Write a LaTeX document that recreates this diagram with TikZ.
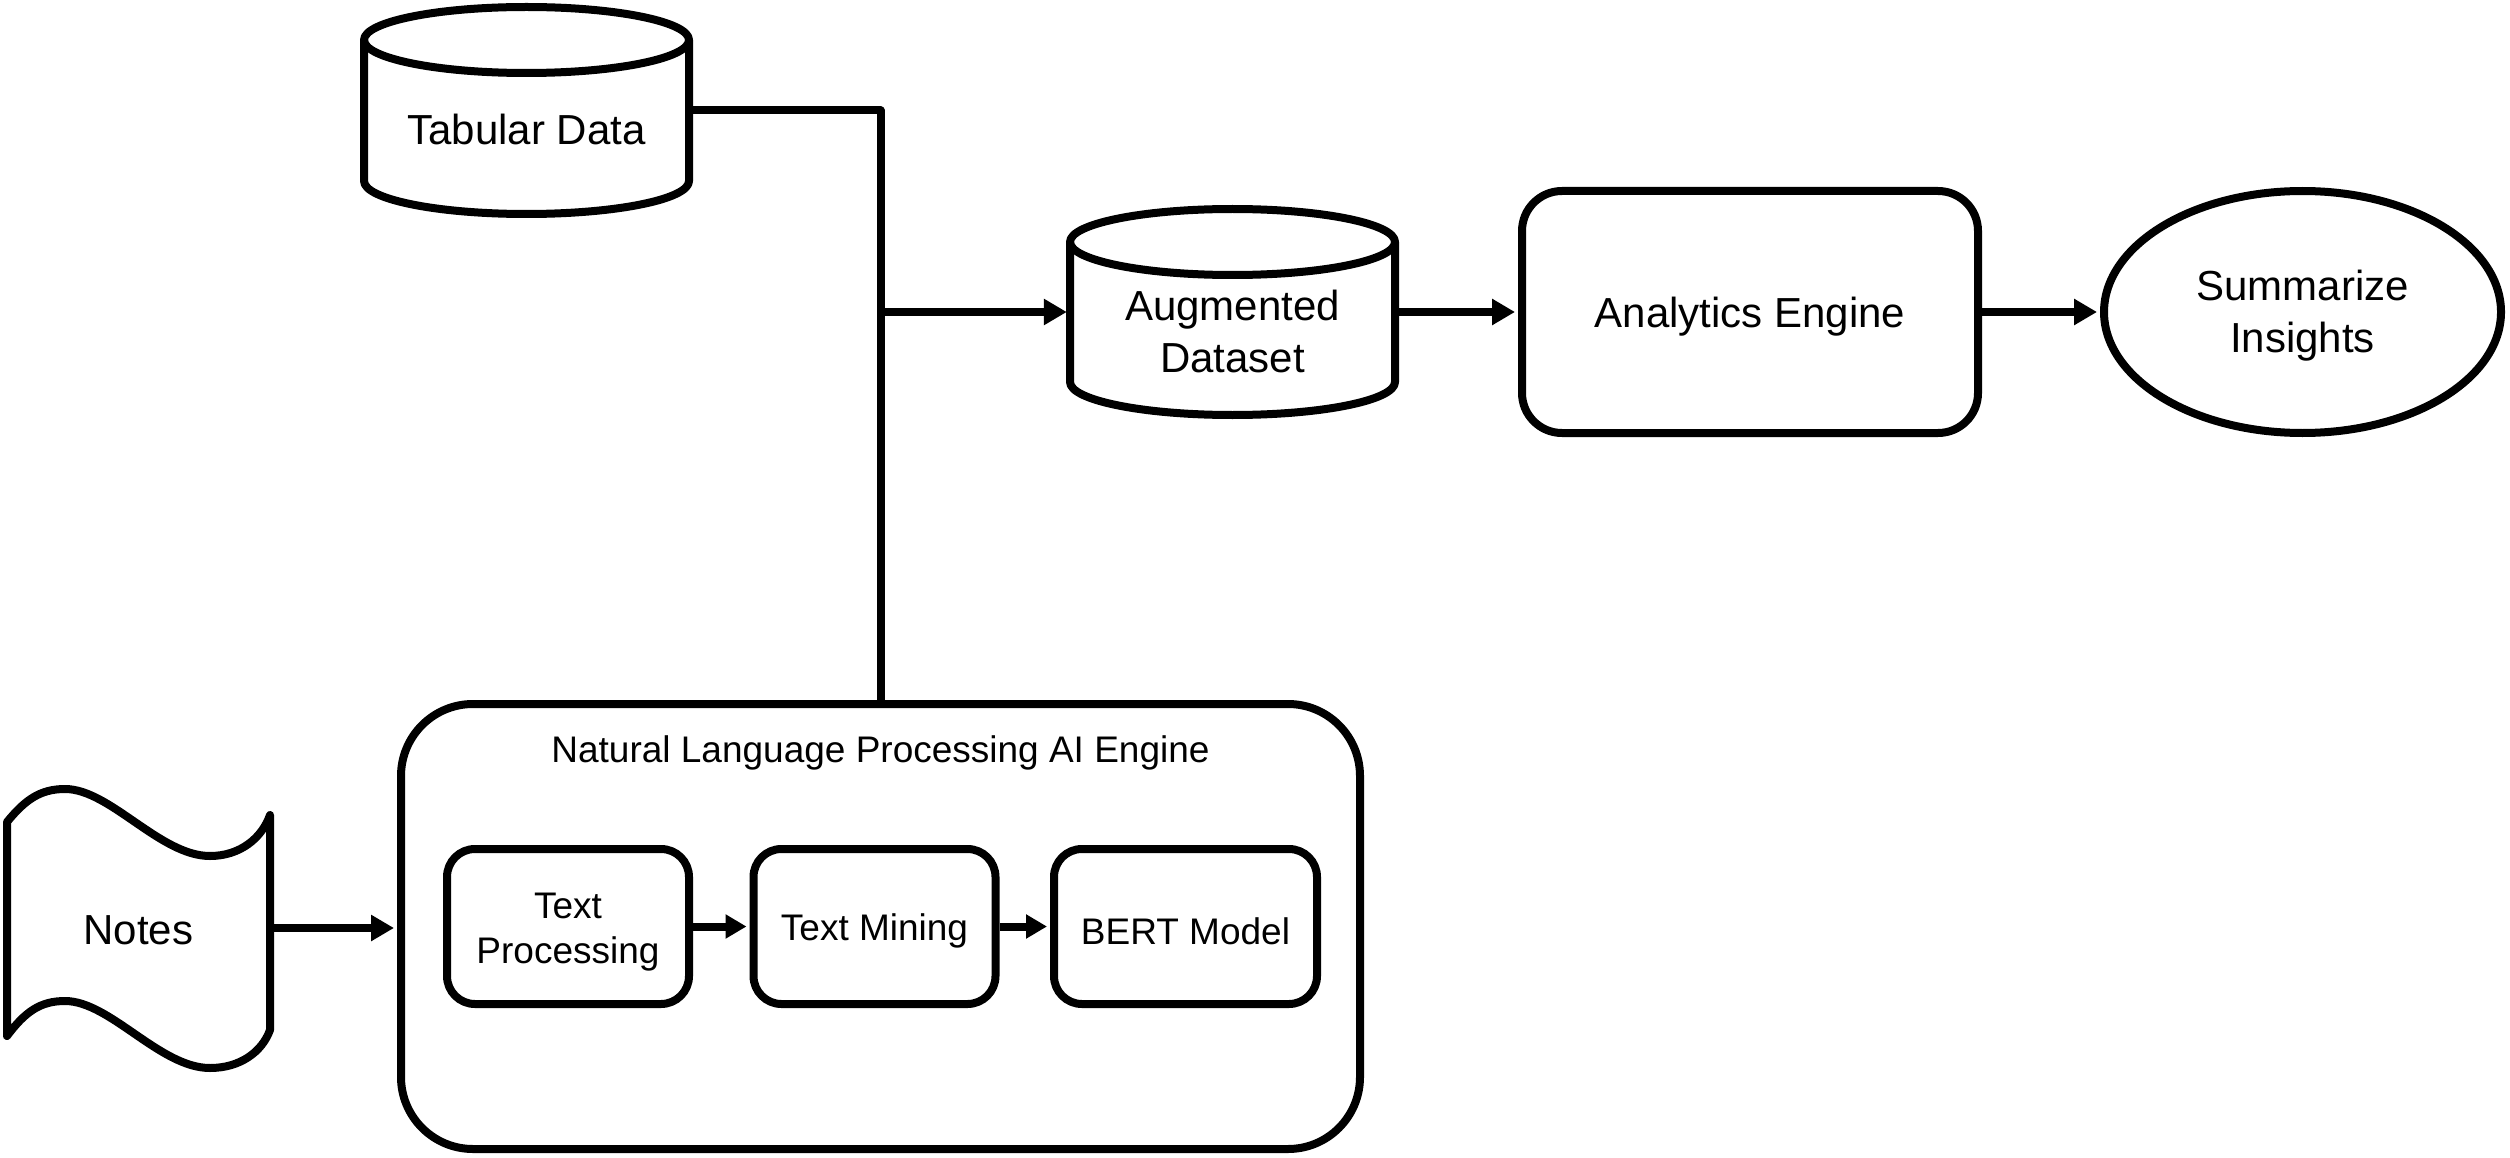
\documentclass[tikz,border=0pt]{standalone}
\usepackage{fontspec}
\setmainfont{Liberation Sans}
\usetikzlibrary{arrows.meta,shapes.geometric}
\tikzset{
  ln/.style={line width=8pt, line join=round},
  arr/.style={ln, -{Triangle[length=23pt,width=25pt]}, shorten >=3pt},
  sarr/.style={ln, -{Triangle[length=21pt,width=23pt]}, shorten >=3pt},
  ghost/.style={draw=none, inner sep=0pt},
  bigbox/.style={ln, draw, rounded corners=40pt, inner sep=0pt},
  smallbox/.style={ln, draw, rounded corners=28pt, inner sep=0pt, minimum width=242pt, minimum height=155pt},
  txt/.style={inner sep=0pt, align=center, font=\fontsize{42}{52}\selectfont},
  stxt/.style={inner sep=0pt, align=center, font=\fontsize{37}{45}\selectfont},
}
\begin{document}
\begin{tikzpicture}[x=1pt,y=-1pt]
\useasboundingbox (0,0) rectangle (2510,1158);
% Tabular Data cylinder
\node[ghost, minimum width=325pt, minimum height=207pt] (tab) at (526.5,110.5) {};
\draw[ln] (364,40) -- (364,181) arc[start angle=180,end angle=0,x radius=162.5,y radius=33] -- (689,40);
\draw[ln] (526.5,40) ellipse[x radius=162.5, y radius=33];
\node[txt] (tabtxt) at (526.5,129) {Tabular Data};
% Augmented Dataset cylinder
\node[ghost, minimum width=325pt, minimum height=206pt] (aug) at (1232.5,312) {};
\draw[ln] (1070,242) -- (1070,382) arc[start angle=180,end angle=0,x radius=162.5,y radius=33] -- (1395,242);
\draw[ln] (1232.5,242) ellipse[x radius=162.5, y radius=33];
\node[txt] (augtxt) at (1232.5,331) {Augmented\\Dataset};
% Analytics Engine
\node[bigbox, minimum width=456pt, minimum height=242pt] (ana) at (1750,312) {};
\node[txt] (anatxt) at (1750,317) {Analytics Engine};
% Summarize Insights
\node[ln, draw, ellipse, inner sep=0pt, minimum width=397pt, minimum height=242pt] (sum) at (2302.5,312) {};
\node[txt] (sumtxt) at (2302.5,316) {Summarize\\Insights};
% NLP engine
\node[ln, draw, rounded corners=72pt, inner sep=0pt, minimum width=959pt, minimum height=445pt] (nlp) at (880.5,926.5) {};
\node[stxt] (nlptitle) at (880.5,753) {Natural Language Processing AI Engine};
\node[smallbox] (tp) at (568,926.5) {};
\node[stxt] (tptxt) at (568,932) {Text\\Processing};
\node[smallbox] (tm) at (874.5,926.5) {};
\node[stxt] (tmtxt) at (874.5,931) {Text Mining};
\node[smallbox, minimum width=263pt] (bert) at (1185.5,926.5) {};
\node[stxt] (berttxt) at (1185.5,931) {BERT Model};
% Notes
\node[ghost, minimum width=263pt, minimum height=277pt] (notes) at (138.5,928) {};
\draw[ln] (7,822) .. controls (25,800) and (40,789) .. (65,789)
  .. controls (110,789) and (160,856) .. (210,856)
  .. controls (240,856) and (262,838) .. (270,815)
  -- (270,1030)
  .. controls (262,1052) and (240,1068) .. (210,1068)
  .. controls (160,1068) and (110,1001) .. (65,1001)
  .. controls (40,1001) and (25,1012) .. (7,1036) -- cycle;
\node[txt] (notestxt) at (138.5,930) {Notes};
% connectors
\draw[ln] (tab.east) -| (nlp.north);
\draw[arr] (nlp.north |- aug.west) -- (aug.west);
\draw[arr] (aug.east) -- (ana.west);
\draw[arr] (ana.east) -- (sum.west);
\draw[arr] (notes.east) -- (notes.east -| nlp.west);
\draw[sarr] (tp.east) -- (tm.west);
\draw[sarr] (tm.east) -- (bert.west);
\end{tikzpicture}
\end{document}
